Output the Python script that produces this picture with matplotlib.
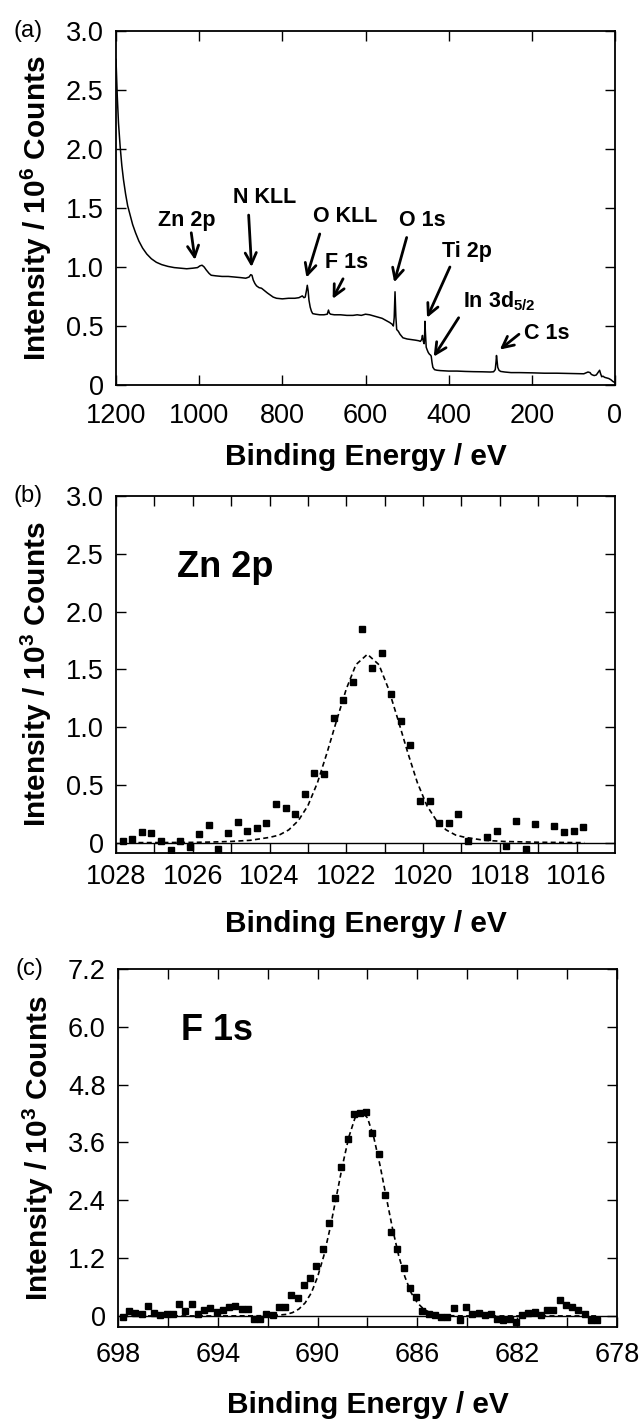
import matplotlib.pyplot as plt
import numpy as np

plt.rcParams['font.family'] = ['Liberation Sans', 'DejaVu Sans']
plt.rcParams['mathtext.fontset'] = 'custom'
plt.rcParams['mathtext.rm'] = 'Liberation Sans:bold'
plt.rcParams['mathtext.bf'] = 'Liberation Sans:bold'
plt.rcParams['mathtext.it'] = 'Liberation Sans:bold'
plt.rcParams['mathtext.default'] = 'rm'

# ── (a) survey spectrum, binding energy (eV) vs intensity (10^6 counts) ──
survey_be = [1200, 1197, 1194, 1190, 1186, 1182, 1177, 1172, 1166, 1160, 1153, 1145,
             1136, 1126, 1115, 1103, 1090, 1075, 1060, 1045, 1030, 1015, 1004, 998,
             993, 988, 983, 976, 971, 960, 945, 930, 915, 900, 888, 880, 876, 873, 870,
             866, 862, 856, 850, 843, 836, 830, 822, 814, 800, 785, 770, 760, 752, 748,
             745, 742, 740, 738, 736, 733, 730, 727, 720, 710, 700, 692, 689, 687, 684,
             675, 660, 645, 630, 620, 610, 600, 590, 580, 570, 560, 550, 542, 536, 533,
             531, 529, 527, 525, 521, 517, 510, 500, 490, 480, 472, 468, 465, 463, 461,
             459, 458, 457, 456, 454, 452, 449, 446, 444, 442, 440, 438, 434, 428, 420,
             410, 400, 380, 360, 340, 320, 300, 292, 288, 286, 285, 284, 282, 279, 275,
             265, 250, 230, 200, 170, 140, 110, 90, 75, 65, 60, 57, 54, 50, 45, 40, 37,
             35, 32, 29, 25, 20, 15, 10, 5, 0]
survey_int = [2.76, 2.45, 2.22, 2.02, 1.86, 1.74, 1.62, 1.52, 1.44, 1.36, 1.29, 1.22,
              1.16, 1.11, 1.07, 1.04, 1.02, 1.005, 0.995, 0.99, 0.985, 0.99, 0.995, 1.01,
              1.015, 1.0, 0.975, 0.945, 0.93, 0.925, 0.92, 0.92, 0.915, 0.91, 0.905, 0.915,
              0.935, 0.93, 0.89, 0.86, 0.84, 0.825, 0.82, 0.80, 0.78, 0.765, 0.745, 0.735,
              0.73, 0.735, 0.735, 0.74, 0.755, 0.74, 0.745, 0.80, 0.845, 0.80, 0.72, 0.66,
              0.625, 0.605, 0.60, 0.595, 0.595, 0.60, 0.635, 0.61, 0.60, 0.595, 0.595,
              0.59, 0.59, 0.595, 0.59, 0.60, 0.595, 0.585, 0.575, 0.565, 0.545, 0.53,
              0.515, 0.50, 0.57, 0.79, 0.58, 0.47, 0.455, 0.43, 0.40, 0.39, 0.385, 0.38,
              0.375, 0.37, 0.385, 0.42, 0.37, 0.35, 0.40, 0.54, 0.45, 0.32, 0.30, 0.275,
              0.26, 0.255, 0.245, 0.19, 0.15, 0.13, 0.125, 0.122, 0.12, 0.118, 0.118,
              0.115, 0.113, 0.112, 0.11, 0.112, 0.13, 0.20, 0.25, 0.22, 0.15, 0.125, 0.115,
              0.11, 0.105, 0.105, 0.103, 0.10, 0.10, 0.098, 0.097, 0.095, 0.11, 0.105,
              0.09, 0.085, 0.08, 0.085, 0.11, 0.125, 0.10, 0.07, 0.075, 0.065, 0.06,
              0.055, 0.045, 0.03, 0.02]

peak_names = ['Zn 2p', 'N KLL', 'O KLL', 'F 1s', 'O 1s', 'Ti 2p', 'In 3d$_{5/2}$', 'C 1s']

# ── (b) Zn 2p narrow scan (10^3 counts) ──
zn_be = [1027.83, 1027.58, 1027.33, 1027.08, 1026.83, 1026.58, 1026.33, 1026.08,
         1025.83, 1025.58, 1025.33, 1025.08, 1024.83, 1024.58, 1024.33, 1024.08,
         1023.83, 1023.58, 1023.33, 1023.08, 1022.83, 1022.58, 1022.33, 1022.08,
         1021.83, 1021.58, 1021.33, 1021.08, 1020.83, 1020.58, 1020.33, 1020.08,
         1019.83, 1019.58, 1019.33, 1019.08, 1018.83, 1018.33, 1018.08, 1017.83,
         1017.58, 1017.33, 1017.08, 1016.58, 1016.33, 1016.08, 1015.83]
zn_int = [0.014, 0.032, 0.089, 0.080, 0.014, -0.063, 0.017, -0.040, 0.072, 0.152,
          -0.057, 0.086, 0.175, 0.098, 0.124, 0.167, 0.330, 0.296, 0.244, 0.417, 0.606,
          0.598, 1.078, 1.236, 1.391, 1.85, 1.509, 1.641, 1.287, 1.052, 0.842, 0.356,
          0.359, 0.167, 0.170, 0.244, 0.011, 0.049, 0.100, -0.026, 0.184, -0.052, 0.158,
          0.144, 0.092, 0.098, 0.138]
zn_fit_be = [1027.85, 1027.0, 1026.0, 1025.5, 1025.0, 1024.5, 1024.0, 1023.75, 1023.5,
             1023.25, 1023.0, 1022.75, 1022.5, 1022.25, 1022.0, 1021.75, 1021.45, 1021.15,
             1020.9, 1020.65, 1020.4, 1020.15, 1019.9, 1019.65, 1019.4, 1019.15, 1018.9,
             1018.4, 1017.9, 1017.0, 1016.0, 1015.8]
zn_fit = [0.0, 0.0, 0.002, 0.005, 0.01, 0.02, 0.045, 0.065, 0.11, 0.19, 0.32, 0.52, 0.78,
          1.06, 1.33, 1.54, 1.63, 1.54, 1.33, 1.06, 0.78, 0.52, 0.32, 0.19, 0.11, 0.065,
          0.045, 0.02, 0.01, 0.003, 0.0, 0.0]

# ── (c) F 1s narrow scan (10^3 counts) ──
f_be = [697.80, 697.55, 697.30, 697.05, 696.80, 696.55, 696.30, 696.05, 695.80, 695.55,
        695.30, 695.05, 694.80, 694.55, 694.30, 694.05, 693.80, 693.55, 693.30, 693.05,
        692.80, 692.55, 692.30, 692.05, 691.80, 691.55, 691.30, 691.05, 690.80, 690.55,
        690.30, 690.05, 689.80, 689.55, 689.30, 689.05, 688.80, 688.55, 688.30, 688.05,
        687.80, 687.55, 687.30, 687.05, 686.80, 686.55, 686.30, 686.05, 685.80, 685.55,
        685.30, 685.05, 684.80, 684.55, 684.30, 684.05, 683.80, 683.55, 683.30, 683.05,
        682.80, 682.55, 682.30, 682.05, 681.80, 681.55, 681.30, 681.05, 680.80, 680.55,
        680.30, 680.05, 679.80, 679.55, 679.30, 679.05, 678.80]
f_int = [-0.02, 0.10, 0.06, 0.03, 0.21, 0.06, 0.02, 0.03, 0.05, 0.24, 0.10, 0.24, 0.05,
         0.12, 0.17, 0.08, 0.12, 0.19, 0.21, 0.15, 0.15, -0.06, -0.06, 0.05, 0.01, 0.19,
         0.19, 0.44, 0.37, 0.64, 0.78, 1.04, 1.39, 1.93, 2.45, 3.10, 3.67, 4.20, 4.22,
         4.24, 3.79, 3.36, 2.51, 1.75, 1.39, 0.99, 0.58, 0.40, 0.10, 0.05, 0.01, -0.02,
         -0.02, 0.16, -0.09, 0.19, 0.03, 0.06, 0.01, 0.05, -0.06, -0.09, -0.06, -0.12,
         0.01, 0.06, 0.08, 0.01, 0.12, 0.13, 0.33, 0.22, 0.18, 0.12, 0.03, -0.08, -0.08]
f_fit_be = [697.8, 694.0, 692.5, 692.0, 691.5, 691.25, 691.0, 690.75, 690.5, 690.25,
            690.0, 689.75, 689.5, 689.25, 689.0, 688.75, 688.5, 688.25, 688.0, 687.75,
            687.5, 687.25, 687.0, 686.75, 686.5, 686.25, 686.0, 685.75, 685.5, 685.25,
            684.75, 684.0, 678.8]
f_fit = [0.0, 0.0, 0.003, 0.005, 0.02, 0.032, 0.07, 0.143, 0.27, 0.48, 0.81, 1.25, 1.82,
         2.47, 3.13, 3.71, 4.11, 4.25, 4.11, 3.71, 3.13, 2.47, 1.82, 1.25, 0.81, 0.48,
         0.27, 0.143, 0.07, 0.032, 0.005, 0.0, 0.0]

# label placement for panel (a): text centre, arrow tail, arrow tip (data coords)
ann_text = [(1029, 1.39), (842, 1.59), (649, 1.43), (645, 1.04), (463, 1.39),
            (355, 1.13), (279, 0.71), (165, 0.44)]
ann_tail = [(1019, 1.29), (881, 1.44), (710, 1.28), (654, 0.90), (501, 1.25),
            (397, 1.00), (376, 0.57), (231, 0.43)]
ann_tip = [(1010, 1.06), (874, 1.00), (742, 0.91), (679, 0.73), (531, 0.87),
           (452, 0.57), (436, 0.24), (277, 0.30)]

TICK_FS = 19.5
LABEL_FS = 21.5


def style_axes(ax, letter, xpad, xlab_y):
    ax.tick_params(which='both', direction='in', top=True, right=True, length=7,
                   width=1.0, labelsize=TICK_FS)
    ax.tick_params(axis='x', which='both', pad=xpad)
    ax.tick_params(axis='y', which='both', pad=9)
    for s in ax.spines.values():
        s.set_linewidth(1.3)
    ax.set_xlabel('Binding Energy / eV', fontsize=LABEL_FS, fontweight='bold')
    ax.xaxis.set_label_coords(0.5, xlab_y)
    ax.yaxis.set_label_coords(-0.125, 0.5)
    ax.text(-0.205, 1.0, letter, transform=ax.transAxes, ha='left', va='center',
            fontsize=17)


fig = plt.figure(figsize=(6.44, 14.19), dpi=100)
W = 644.0
H = 1419.0

# (a)
ax1 = fig.add_axes([116 / W, 1 - 385 / H, 499 / W, 354 / H])
ax1.plot(survey_be, survey_int, color='black', lw=1.1)
ax1.set_xlim(1200, 0)
ax1.set_ylim(0, 3.0)
ax1.set_xticks(np.arange(0, 1201, 200))
ax1.set_xticklabels([str(v) for v in range(0, 1201, 200)])
ax1.set_yticks(np.arange(0, 3.01, 0.5))
ax1.set_yticklabels(['0', '0.5', '1.0', '1.5', '2.0', '2.5', '3.0'])
ax1.set_ylabel('Intensity / 10$^{6}$ Counts', fontsize=LABEL_FS, fontweight='bold')
for name, t, a, b in zip(peak_names, ann_text, ann_tail, ann_tip):
    ax1.annotate('', xy=b, xytext=a,
                 arrowprops=dict(arrowstyle='->,head_length=0.8,head_width=0.4',
                                 lw=2.0, color='black', shrinkA=0, shrinkB=0))
    ax1.text(t[0], t[1], name, ha='center', va='center', fontsize=15.5,
             fontweight='bold')
style_axes(ax1, '(a)', 13, -0.165)

# (b)
ax2 = fig.add_axes([116 / W, 1 - 853 / H, 499 / W, 357 / H])
ax2.axhline(0, color='black', lw=1.0)
ax2.plot(zn_fit_be, zn_fit, color='black', lw=1.2, ls=(0, (3, 2)))
ax2.plot(zn_be, zn_int, ls='none', marker='s', ms=4.2, color='black')
ax2.set_xlim(1028, 1015)
ax2.set_ylim(-0.09, 3.0)
ax2.set_xticks(range(1016, 1029, 2))
ax2.set_xticks(range(1017, 1028, 2), minor=True)
ax2.set_yticks(np.arange(0, 3.01, 0.5))
ax2.set_yticklabels(['0', '0.5', '1.0', '1.5', '2.0', '2.5', '3.0'])
ax2.set_ylabel('Intensity / 10$^{3}$ Counts', fontsize=LABEL_FS, fontweight='bold')
ax2.text(0.122, 0.80, 'Zn 2p', transform=ax2.transAxes, ha='left', va='center',
         fontsize=26, fontweight='bold')
style_axes(ax2, '(b)', 8, -0.16)

# (c)
ax3 = fig.add_axes([118 / W, 1 - 1327 / H, 499 / W, 358 / H])
ax3.axhline(0, color='black', lw=1.0)
ax3.plot(f_fit_be, f_fit, color='black', lw=1.2, ls=(0, (3, 2)))
ax3.plot(f_be, f_int, ls='none', marker='s', ms=4.2, color='black')
ax3.set_xlim(698, 678)
ax3.set_ylim(-0.23, 7.2)
ax3.set_xticks(range(678, 699, 4))
ax3.set_xticks(range(680, 698, 4), minor=True)
ax3.set_yticks([0, 1.2, 2.4, 3.6, 4.8, 6.0, 7.2])
ax3.set_yticklabels(['0', '1.2', '2.4', '3.6', '4.8', '6.0', '7.2'])
ax3.set_ylabel('Intensity / 10$^{3}$ Counts', fontsize=LABEL_FS, fontweight='bold')
ax3.text(0.126, 0.827, 'F 1s', transform=ax3.transAxes, ha='left', va='center',
         fontsize=26, fontweight='bold')
style_axes(ax3, '(c)', 11, -0.18)

fig.savefig('out.png', dpi=100)
